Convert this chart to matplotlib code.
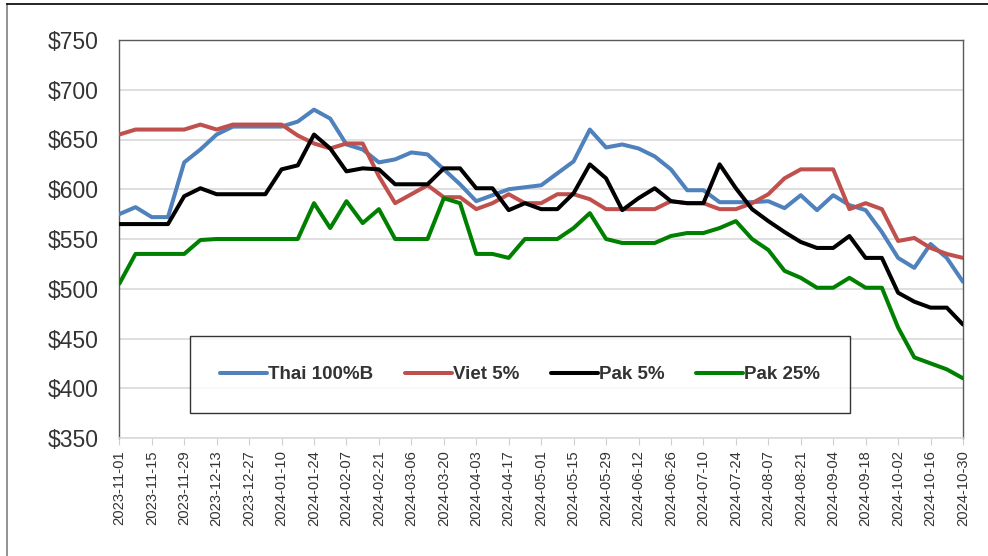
import matplotlib
matplotlib.use("Agg")
import matplotlib.pyplot as plt
import matplotlib.lines as mlines
import numpy as np
import pandas as pd

plt.rcParams['font.family'] = ['Liberation Sans', 'DejaVu Sans']

dates = pd.date_range("2023-11-01", "2024-10-30", freq="7D")
labels = [d.strftime("%Y-%m-%d") for d in dates]

thai_100b = [575, 582, 572, 572, 627, 640, 655, 663, 663, 663, 663, 668, 680,
             671, 645, 640, 627, 630, 637, 635, 620, 605, 588, 594, 600, 602, 604,
             616, 628, 660, 642, 645, 641, 633, 620, 599, 599, 587, 587, 587,
             588, 581, 594, 579, 594, 584, 579, 557, 531, 521, 545, 531, 507]
viet_5 = [655, 660, 660, 660, 660, 665, 660, 665, 665, 665, 665, 654, 646,
          641, 646, 646, 613, 586, 595, 604, 592, 592, 580, 586, 595, 586, 586,
          595, 595, 590, 580, 580, 580, 580, 588, 586, 586, 580, 580, 586,
          595, 611, 620, 620, 620, 580, 586, 580, 548, 551, 541, 535, 531]
pak_5 = [565, 565, 565, 565, 593, 601, 595, 595, 595, 595, 620, 624, 655,
         641, 618, 621, 620, 605, 605, 605, 621, 621, 601, 601, 579, 586, 580,
         580, 596, 625, 611, 579, 591, 601, 588, 586, 586, 625, 601, 580,
         568, 557, 547, 541, 541, 553, 531, 531, 496, 487, 481, 481, 464]
pak_25 = [505, 535, 535, 535, 535, 549, 550, 550, 550, 550, 550, 550, 586,
          561, 588, 566, 580, 550, 550, 550, 591, 586, 535, 535, 531, 550, 550,
          550, 561, 576, 550, 546, 546, 546, 553, 556, 556, 561, 568, 550,
          539, 518, 511, 501, 501, 511, 501, 501, 461, 431, 425, 419, 410]

series_names = ["Thai 100%B", "Viet 5%", "Pak 5%", "Pak 25%"]
series_values = [thai_100b, viet_5, pak_5, pak_25]
series_colors = ["#4F81BD", "#C0504D", "#000000", "#008000"]

y_ticks = list(range(350, 751, 50))

W, H = 988, 556
fig = plt.figure(figsize=(W / 100, H / 100), dpi=100)
ax = fig.add_axes([119.3 / W, 1 - 438 / H, (963 - 119.3) / W, (438 - 40) / H])

x = np.arange(len(labels))
handles = []
for name, vals, col in zip(series_names, series_values, series_colors):
    ln, = ax.plot(x, vals, color=col, linewidth=2.9, solid_joinstyle='round',
                  solid_capstyle='round', label=name, zorder=3)
    handles.append(ln)

ax.set_xlim(0, len(labels) - 1)
ax.set_ylim(350, 750)
ax.set_yticks(y_ticks)
ax.set_yticklabels([f"${v}" for v in y_ticks], fontsize=16.5, color="#333333")
ax.set_xticks(x[::2])
ax.set_xticklabels(labels[::2], rotation=90, fontsize=10.6, color="#333333")
ax.tick_params(axis='y', length=0, pad=15)
ax.tick_params(axis='x', length=5, color="#d0d0d0", pad=4, direction='out')
ax.grid(axis='y', color="#d9d9d9", linewidth=1.2, zorder=0)
ax.set_axisbelow(True)
for s in ["left", "top", "right"]:
    ax.spines[s].set_color("#595959")
    ax.spines[s].set_linewidth(1.0)
ax.spines["bottom"].set_color("#d9d9d9")
ax.spines["bottom"].set_linewidth(1.2)

leg = fig.legend(handles=handles, loc='center', ncol=4,
                 bbox_to_anchor=(190 / W, 1 - 412 / H, 660 / W, 75 / H),
                 bbox_transform=fig.transFigure, mode='expand',
                 frameon=True, fancybox=False, edgecolor='black',
                 prop={'weight': 'bold', 'size': 13.5},
                 handlelength=2.5, handletextpad=0.05, columnspacing=1.0,
                 borderaxespad=0, borderpad=1.6)
leg.get_frame().set_linewidth(1.0)
for t in leg.get_texts():
    t.set_color("#333333")

# outer chart border (top and left visible)
fig.add_artist(mlines.Line2D([7 / W, 7 / W], [0, 1 - 4 / H], transform=fig.transFigure,
                             color="#7f7f7f", linewidth=1.2))
fig.add_artist(mlines.Line2D([7 / W, 1], [1 - 4 / H, 1 - 4 / H], transform=fig.transFigure,
                             color="black", linewidth=1.2))

fig.savefig("out.png", dpi=100)
